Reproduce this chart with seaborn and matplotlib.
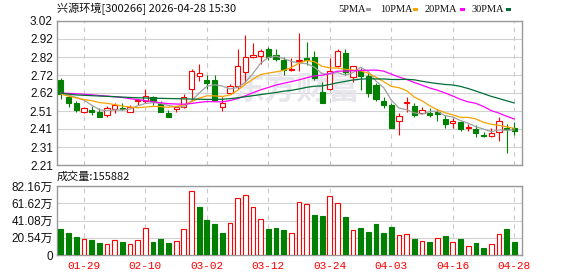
import numpy as np
import pandas as pd
import matplotlib
matplotlib.use("Agg")
import matplotlib.pyplot as plt
from matplotlib.patches import Rectangle
import seaborn as sns

# ---------------- data ----------------
title = "兴源环境[300266] 2026-04-28 15:30"
dates = ["01-26", "01-27", "01-28", "01-29", "01-30", "02-02", "02-03", "02-04", "02-05", "02-06",
         "02-09", "02-10", "02-11", "02-12", "02-13", "02-24", "02-25", "02-26", "02-27", "03-02",
         "03-03", "03-04", "03-05", "03-06", "03-09", "03-10", "03-11", "03-12", "03-13", "03-16",
         "03-17", "03-18", "03-19", "03-20", "03-23", "03-24", "03-25", "03-26", "03-27", "03-30",
         "03-31", "04-01", "04-02", "04-03", "04-07", "04-08", "04-09", "04-10", "04-13", "04-14",
         "04-15", "04-16", "04-17", "04-20", "04-21", "04-22", "04-23", "04-24", "04-27", "04-28"]
opens = [2.688, 2.592, 2.557, 2.510, 2.519, 2.508, 2.493, 2.523, 2.531, 2.510,
         2.568, 2.572, 2.592, 2.553, 2.503, 2.523, 2.534, 2.636, 2.713, 2.688,
         2.686, 2.534, 2.613, 2.653, 2.731, 2.819, 2.823, 2.862, 2.827, 2.799,
         2.742, 2.795, 2.812, 2.817, 2.621, 2.639, 2.765, 2.840, 2.703, 2.737,
         2.709, 2.658, 2.570, 2.549, 2.456, 2.561, 2.542, 2.504, 2.503, 2.508,
         2.469, 2.444, 2.452, 2.418, 2.414, 2.381, 2.371, 2.394, 2.418, 2.418]
highs = [2.697, 2.611, 2.568, 2.538, 2.540, 2.529, 2.540, 2.557, 2.557, 2.546,
         2.581, 2.639, 2.598, 2.568, 2.519, 2.542, 2.607, 2.748, 2.778, 2.718,
         2.718, 2.594, 2.666, 2.864, 2.941, 2.896, 2.861, 2.876, 2.861, 2.816,
         2.812, 2.952, 2.902, 2.849, 2.677, 2.812, 2.862, 2.862, 2.769, 2.756,
         2.727, 2.671, 2.592, 2.559, 2.504, 2.591, 2.559, 2.538, 2.531, 2.527,
         2.493, 2.474, 2.456, 2.441, 2.433, 2.394, 2.418, 2.480, 2.441, 2.452]
lows = [2.583, 2.534, 2.510, 2.503, 2.493, 2.482, 2.480, 2.503, 2.517, 2.506,
        2.548, 2.557, 2.549, 2.506, 2.482, 2.510, 2.531, 2.576, 2.684, 2.636,
        2.568, 2.512, 2.607, 2.636, 2.671, 2.812, 2.780, 2.801, 2.793, 2.718,
        2.741, 2.741, 2.774, 2.690, 2.557, 2.634, 2.759, 2.718, 2.677, 2.634,
        2.592, 2.568, 2.531, 2.418, 2.381, 2.506, 2.482, 2.497, 2.478, 2.456,
        2.418, 2.418, 2.403, 2.403, 2.366, 2.366, 2.366, 2.343, 2.277, 2.381]
closes = [2.611, 2.561, 2.521, 2.531, 2.510, 2.482, 2.529, 2.547, 2.527, 2.538,
          2.574, 2.596, 2.568, 2.506, 2.482, 2.534, 2.594, 2.737, 2.726, 2.673,
          2.574, 2.559, 2.656, 2.769, 2.816, 2.827, 2.849, 2.816, 2.804, 2.746,
          2.748, 2.801, 2.803, 2.700, 2.561, 2.737, 2.849, 2.731, 2.769, 2.712,
          2.613, 2.583, 2.549, 2.418, 2.488, 2.566, 2.493, 2.517, 2.491, 2.495,
          2.441, 2.457, 2.414, 2.422, 2.390, 2.375, 2.390, 2.456, 2.414, 2.399]
volumes = [31.0, 26.6, 21.4, 19.1, 17.9, 14.7, 13.1, 17.9, 15.5, 13.1,
           17.9, 31.8, 15.9, 19.1, 14.7, 16.7, 30.6, 75.8, 57.2, 41.7,
           36.9, 26.6, 37.7, 67.5, 71.4, 56.8, 42.5, 31.0, 32.1, 29.8,
           25.8, 62.7, 60.7, 47.6, 46.4, 70.3, 61.5, 45.2, 29.4, 32.1,
           27.4, 36.9, 26.2, 33.3, 23.4, 24.6, 19.1, 16.3, 15.5, 19.8,
           22.6, 15.5, 19.1, 10.3, 14.3, 8.3, 12.7, 24.6, 31.0, 15.59]
ma5 = [2.615, 2.603, 2.590, 2.575, 2.547, 2.521, 2.515, 2.520, 2.519, 2.525,
       2.543, 2.556, 2.561, 2.556, 2.545, 2.537, 2.537, 2.571, 2.615, 2.653,
       2.661, 2.654, 2.638, 2.646, 2.675, 2.725, 2.783, 2.815, 2.822, 2.808,
       2.793, 2.783, 2.780, 2.760, 2.723, 2.721, 2.730, 2.716, 2.729, 2.760,
       2.735, 2.682, 2.645, 2.575, 2.530, 2.521, 2.503, 2.496, 2.511, 2.512,
       2.487, 2.480, 2.460, 2.445, 2.425, 2.412, 2.398, 2.407, 2.405, 2.407]
ma10 = [2.609, 2.598, 2.587, 2.578, 2.572, 2.561, 2.557, 2.550, 2.542, 2.536,
        2.532, 2.536, 2.540, 2.538, 2.535, 2.540, 2.547, 2.566, 2.586, 2.599,
        2.599, 2.595, 2.604, 2.630, 2.664, 2.693, 2.719, 2.727, 2.734, 2.742,
        2.759, 2.783, 2.798, 2.791, 2.765, 2.756, 2.756, 2.748, 2.744, 2.740,
        2.726, 2.704, 2.679, 2.652, 2.645, 2.628, 2.592, 2.571, 2.543, 2.521,
        2.504, 2.492, 2.478, 2.478, 2.469, 2.450, 2.439, 2.433, 2.425, 2.416]
ma20 = [2.614, 2.613, 2.611, 2.608, 2.605, 2.601, 2.598, 2.594, 2.590, 2.583,
        2.578, 2.572, 2.566, 2.560, 2.555, 2.553, 2.552, 2.556, 2.562, 2.567,
        2.566, 2.565, 2.572, 2.584, 2.599, 2.617, 2.633, 2.646, 2.660, 2.670,
        2.679, 2.689, 2.701, 2.711, 2.715, 2.725, 2.738, 2.738, 2.740, 2.742,
        2.743, 2.744, 2.738, 2.721, 2.705, 2.691, 2.674, 2.659, 2.643, 2.631,
        2.615, 2.598, 2.579, 2.565, 2.557, 2.539, 2.516, 2.502, 2.484, 2.469]
ma30 = [2.615, 2.609, 2.604, 2.602, 2.600, 2.598, 2.596, 2.594, 2.592, 2.590,
        2.588, 2.587, 2.586, 2.585, 2.584, 2.583, 2.582, 2.581, 2.580, 2.579,
        2.579, 2.580, 2.583, 2.588, 2.594, 2.600, 2.606, 2.612, 2.618, 2.625,
        2.630, 2.638, 2.647, 2.653, 2.655, 2.663, 2.673, 2.680, 2.688, 2.693,
        2.695, 2.694, 2.694, 2.691, 2.691, 2.692, 2.689, 2.681, 2.674, 2.668,
        2.663, 2.660, 2.652, 2.640, 2.626, 2.611, 2.596, 2.584, 2.571, 2.559]
price_min, price_max = 2.21, 3.02
price_labels = ["2.21", "2.31", "2.41", "2.51", "2.62", "2.72", "2.82", "2.92", "3.02"]
vol_max = 82.16
vol_labels = ["0", "20.54万", "41.08万", "61.62万", "82.16万"]
date_labels = ["01-29", "02-10", "03-02", "03-12", "03-24", "04-03", "04-16", "04-28"]
ma_names = ["5PMA", "10PMA", "20PMA", "30PMA"]
vol_title = "成交量:155882"
watermark = "东方财富"

# ---------------- style ----------------
RED = "#ff0000"
GREEN = "#008000"
MA_COLORS = ["#a0a0a0", "#f5a300", "#ff00ff", "#006f35"]
GRID = "#d2d2d2"
FRAME = "#999999"

sns.set_theme(style="white")
plt.rcParams['font.family'] = ['Liberation Sans', 'Noto Sans CJK SC', 'DejaVu Sans']
CJK = ['Noto Sans CJK SC', 'DejaVu Sans']

W, H = 578, 276
fig = plt.figure(figsize=(W / 100, H / 100), dpi=100)
fig.patch.set_facecolor("white")


def fx(x):
    return x / W


def fy(y):
    return 1 - y / H


L, R = 57, 522
ax = fig.add_axes([fx(L), fy(165), (R - L) / W, (165 - 21) / H])
axv = fig.add_axes([fx(L), fy(255), (R - L) / W, (255 - 186) / H])

n = len(closes)
x = np.arange(n)
o = np.array(opens)
c = np.array(closes)
hi = np.array(highs)
lo = np.array(lows)
up = c >= o
ccol = np.where(up, RED, GREEN)

# vertical dashed grid at labelled dates
tick_pos = [dates.index(d) for d in date_labels]
for a in (ax, axv):
    for p in tick_pos:
        a.axvline(p, color="#c8c8c8", lw=0.8, ls=(0, (4, 4)), zorder=0.5)

# watermark
ax.text(0.515, 0.52, watermark, transform=ax.transAxes, ha="center", va="center",
        fontsize=23, color="#e6e6ec", fontweight="bold", family=CJK, zorder=0.6)

# candles
ax.vlines(x, lo, hi, colors=ccol, linewidth=0.8, zorder=2)
body_lo = np.minimum(o, c)
body_h = np.maximum(np.abs(c - o), 0.001)
ax.bar(x, body_h, bottom=body_lo, width=0.68,
       color=np.where(up, "white", GREEN), edgecolor=ccol, linewidth=0.8, zorder=3)

# moving averages
df = pd.DataFrame({"x": x, "MA5": ma5, "MA10": ma10, "MA20": ma20, "MA30": ma30})
for col, color in zip(["MA5", "MA10", "MA20", "MA30"], MA_COLORS):
    sns.lineplot(data=df, x="x", y=col, ax=ax, color=color, linewidth=0.9,
                 legend=False, zorder=4)

ax.set_xlim(-0.5, 60.0)
ax.set_ylim(price_min, price_max)
ax.set_yticks(np.linspace(price_min, price_max, len(price_labels)))
ax.set_yticklabels(price_labels)
ax.set_xticks([])
ax.set_xlabel("")
ax.set_ylabel("")
ax.yaxis.grid(True, color=GRID, lw=0.8, zorder=0.4)
ax.set_axisbelow(True)

# volume: colour by close vs previous close
vol_up = [c[0] >= o[0]] + [c[i] >= c[i - 1] for i in range(1, n)]
vol_up = np.array(vol_up)
vcol = np.where(vol_up, RED, GREEN)
axv.bar(x, volumes, width=0.62, color=np.where(vol_up, "white", GREEN),
        edgecolor=vcol, linewidth=0.8, zorder=3)
axv.set_xlim(-0.5, 60.0)
axv.set_ylim(0, vol_max)
axv.set_yticks(np.linspace(0, vol_max, len(vol_labels)))
axv.set_yticklabels(vol_labels)
axv.yaxis.grid(True, color=GRID, lw=0.8, zorder=0.4)
axv.set_axisbelow(True)
axv.set_xticks(tick_pos)
axv.set_xticklabels(date_labels, color=RED, family=['Liberation Mono', 'DejaVu Sans Mono'],
                    fontsize=8)

for a in (ax, axv):
    for s in a.spines.values():
        s.set_color(FRAME)
        s.set_linewidth(1.0)
    a.tick_params(axis="both", length=0)
    a.tick_params(axis="y", labelsize=8.5, pad=3, labelcolor="#111111")
    a.set_facecolor("white")
axv.tick_params(axis="x", pad=4)

# title and legend
fig.text(fx(57), fy(8.5), title, ha="left", va="center", fontsize=8, family=CJK, color="#111111")
leg_x = [338, 380, 425, 472]
sq_x = [366, 413, 460, 506]
for name, tx, sx, color in zip(ma_names, leg_x, sq_x, MA_COLORS):
    fig.text(fx(tx), fy(9), name, ha="left", va="center", fontsize=7.5,
             family=['Liberation Serif', 'DejaVu Serif'], color="#111111")
    fig.patches.append(Rectangle((fx(sx), fy(11)), 5 / W, 3 / H, transform=fig.transFigure,
                                 facecolor=color, edgecolor="none"))

fig.text(fx(57), fy(177), vol_title, ha="left", va="center", fontsize=8, family=CJK, color="#111111")

fig.savefig("out.png", dpi=100, facecolor="white")
